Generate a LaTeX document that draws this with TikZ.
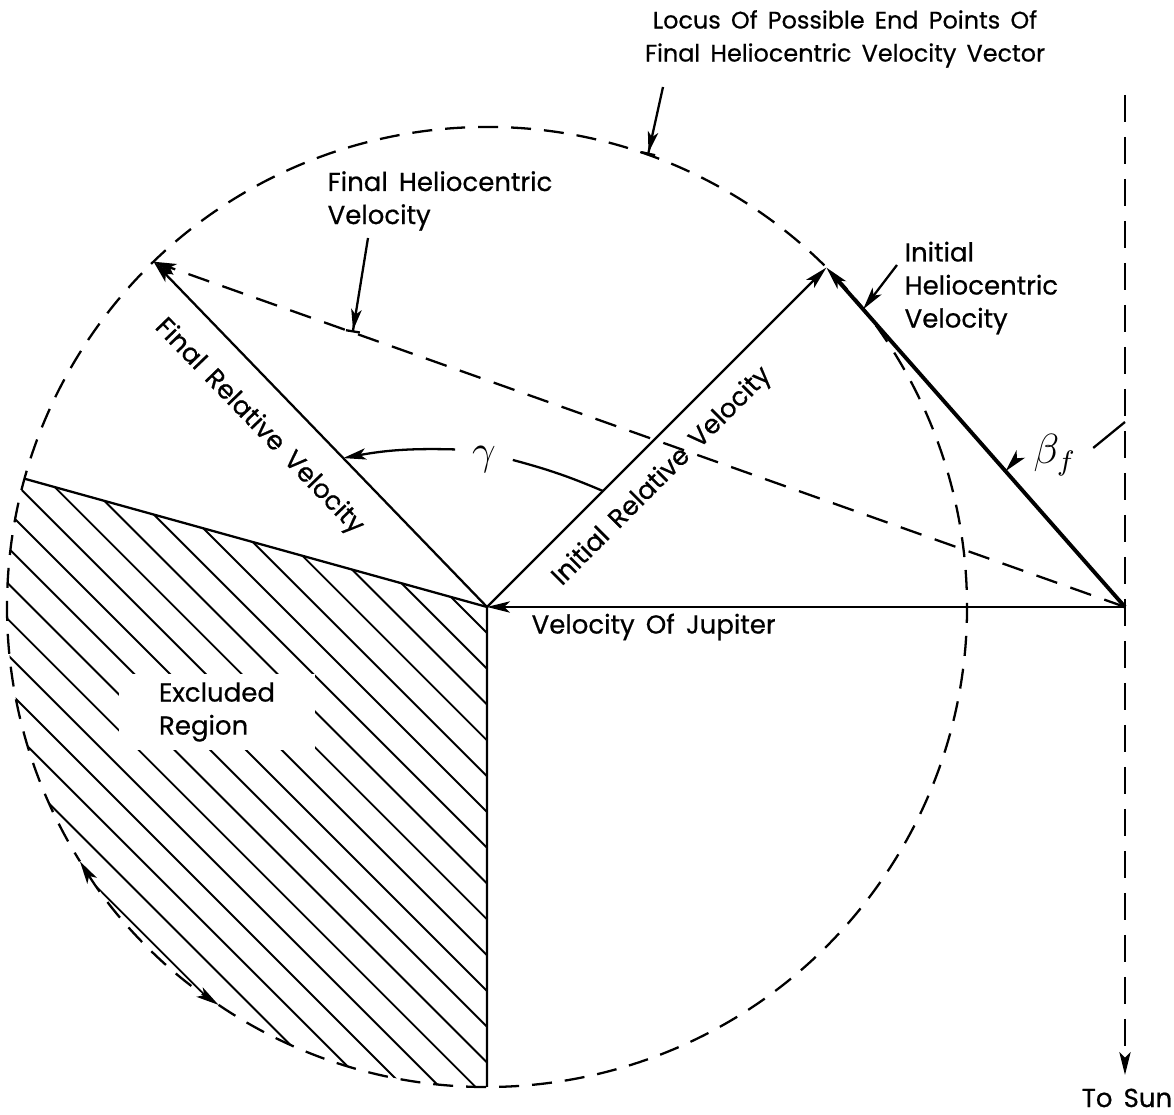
\documentclass[tikz,border=0pt]{standalone}
\usepackage{fontspec}
\setmainfont{Poppins}[WordSpace=1.6, FakeBold=0.6]
\usetikzlibrary{arrows.meta,calc}

\tikzset{
  vec/.style={-{Stealth[length=6.5pt,width=3.2pt,inset=1.6pt]}},
  lead/.style={-{Stealth[length=6pt,width=3pt,inset=1.5pt,sep=0pt]Bar[width=4pt]}},
  lbl/.style={font=\fontsize{7.4}{9.4}\selectfont, inner sep=1pt},
  small/.style={font=\fontsize{6.8}{9.4}\selectfont, inner sep=1pt},
  greek/.style={font=\fontsize{12}{13}\selectfont, inner sep=4.5pt},
  locus/.style={dash pattern=on 2mm off 1.3mm},
  helio/.style={dash pattern=on 2.2mm off 1.4mm},
  sunline/.style={dash pattern=on 2.7mm off 1.5mm},
}

\begin{document}
\begin{tikzpicture}[line width=0.65pt]
\useasboundingbox (0,0) rectangle (11.74,11.15);
\coordinate (O) at (4.87,5.08);
\coordinate (S) at (11.25,5.08);
\coordinate (A) at ($(O)+(45:4.8)$);
\coordinate (B) at ($(O)+(134:4.8)$);
\coordinate (C) at ($(O)+(164.5:4.8)$);
\coordinate (D) at ($(O)+(270:4.8)$);

% excluded region
\begin{scope}
  \clip (O) -- (C) arc (164.5:270:4.8) -- cycle;
  \foreach \k in {0,...,19}
    \draw[line width=0.55pt] (-1,{10.69-0.358*\k}) -- ++(8,-8);
\end{scope}
\node[lbl, fill=white, align=left, inner xsep=0.4cm, inner ysep=0.08cm] (excl) at (2.17,4.03) {Excluded\\Region};
\draw (C) -- (O) -- (D);

% locus circle
\draw[locus] ($(O)+(236:4.8)$) arc (236:572:4.8);
\draw[locus, {Stealth[length=6.5pt,width=3.2pt,inset=1.6pt]}-{Stealth[length=6.5pt,width=3.2pt,inset=1.6pt]}]
  ($(O)+(212:4.8)$) arc (212:236:4.8);

% vectors
\draw[vec] (S) -- (O);
\draw[vec] (O) -- (A);
\draw[vec] (O) -- (B);
\draw[vec, line width=1.1pt] (S) -- (A);
\draw[vec, helio] (S) -- (B);

% direction of the sun
\coordinate (top) at (11.25,10.20);
\coordinate (bot) at (11.25,0.40);
\draw[vec, sunline] (top) -- (bot);
\node[lbl] (sun) at (11.27,0.17) {To Sun};

% labels
\node[lbl, anchor=west] (jup) at (5.27,4.88) {Velocity Of Jupiter};
\path (O) -- (A) node[lbl, sloped, below=4pt, pos=0.45] (irv) {Initial Relative Velocity};
\path (B) -- (O) node[lbl, sloped, below=6pt, pos=0.4] (frv) {Final Relative Velocity};

\node[small, align=center] (loc) at (8.45,10.76) {Locus Of Possible End Points Of\\Final Heliocentric Velocity Vector};
\coordinate (l1) at (6.63,10.28);
\draw[lead] (l1) -- ($(O)+(70.4:4.8)$);

\node[lbl, align=left, anchor=west] (fhv) at (3.23,9.14) {Final Heliocentric\\Velocity};
\coordinate (l2) at (3.68,8.77);
\draw[lead] (l2) -- ($(S)!0.795!(B)$);

\node[lbl, align=left, anchor=west] (ihv) at (9.00,8.27) {Initial\\Heliocentric\\Velocity};
\coordinate (l3) at (8.97,8.50);
\draw[vec] (l3) -- ($(S)!0.877!(A)$);

% angles
\node[greek] (gam) at (4.84,6.55) {$\gamma$};
\draw[vec] ([yshift=3pt]gam.west) to[bend right=6] ($(O)+(134:2.07)$);
\draw (gam.east) to[bend left=4] ($(O)+(45:1.64)$);

\node[greek] (bet) at (10.55,6.60) {$\beta_f$};
\draw[vec] ([yshift=-1pt]bet.west) -- ($(S)!0.40!(A)$);
\draw ([yshift=2pt]bet.east) -- (11.25,6.93);
\end{tikzpicture}
\end{document}
